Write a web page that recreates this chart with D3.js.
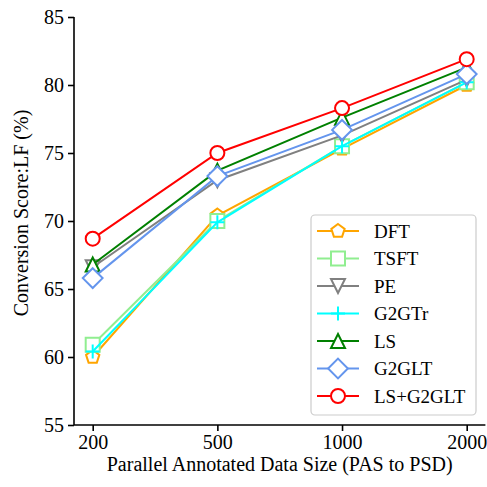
<!DOCTYPE html>
<html><head><meta charset="utf-8">
<script src="https://cdn.jsdelivr.net/npm/d3@7"></script>
<style>body{margin:0;background:#fff}svg{display:block}text{font-family:"Liberation Serif","Times New Roman",serif}</style>
</head><body>
<script>
const categories = ["200","500","1000","2000"];
const yTicks = [55,60,65,70,75,80,85];
const seriesNames = ["DFT","TSFT","PE","G2GTr","LS","G2GLT","LS+G2GLT"];
const DFT = [60.0,70.4,75.3,80.0];
const TSFT = [60.9,70.0,75.5,80.2];
const PE = [66.6,73.0,76.3,80.4];
const G2GTr = [60.4,69.9,75.5,80.2];
const LS = [66.8,73.7,77.6,81.3];
const G2GLT = [65.8,73.3,76.7,80.8];
const LSG2GLT = [68.7,75.0,78.3,81.9];
const seriesValues = [DFT,TSFT,PE,G2GTr,LS,G2GLT,LSG2GLT];
const colors = ["#FFA500","#90EE90","#808080","#00FFFF","#008000","#6495ED","#FF0000"];
const markers = ["pentagon","square","tridown","plus","triup","diamond","circle"];

const W=487,H=487,FS=20;
const svg=d3.select("body").append("svg").attr("width",W).attr("height",H);
const x=d3.scalePoint().domain(categories).range([74,485.4]).padding(0.15);
const y=d3.scaleLinear().domain([55,85]).range([425,17]);

const S=14;
function markerPath(type){
  const r=S/2;
  const p=d3.path();
  if(type==="circle"){p.arc(0,0,r,0,2*Math.PI);}
  else if(type==="square"){p.rect(-r,-r,S,S);}
  else if(type==="diamond"){const d=r*Math.SQRT2;p.moveTo(0,-d);p.lineTo(d,0);p.lineTo(0,d);p.lineTo(-d,0);p.closePath();}
  else if(type==="triup"){p.moveTo(0,-r);p.lineTo(r,r);p.lineTo(-r,r);p.closePath();}
  else if(type==="tridown"){p.moveTo(0,r);p.lineTo(r,-r);p.lineTo(-r,-r);p.closePath();}
  else if(type==="pentagon"){for(let i=0;i<5;i++){const a=-Math.PI/2+i*2*Math.PI/5;const px=r*Math.cos(a),py=r*Math.sin(a);if(i===0)p.moveTo(px,py);else p.lineTo(px,py);}p.closePath();}
  else if(type==="plus"){p.moveTo(-r,0);p.lineTo(r,0);p.moveTo(0,-r);p.lineTo(0,r);}
  return p.toString();
}

// axes
const xAxis=svg.append("g").attr("transform","translate(0,425)")
  .call(d3.axisBottom(x).tickSizeOuter(0).tickSize(6).tickPadding(4));
const yAxis=svg.append("g").attr("transform","translate(74,0)")
  .call(d3.axisLeft(y).tickValues(yTicks).tickSizeOuter(0).tickSize(6).tickPadding(4));
[xAxis,yAxis].forEach(g=>{
  g.attr("font-family",null);
  g.selectAll("path.domain").attr("stroke","#000").attr("stroke-width",1.6);
  g.selectAll(".tick line").attr("stroke","#000").attr("stroke-width",1.6);
  g.selectAll(".tick text").attr("font-size",FS).attr("fill","#000");
});
xAxis.select("path.domain").attr("d","M74,0H485.4");
yAxis.select("path.domain").attr("d","M0,425V17");

svg.append("text").attr("x",279.7).attr("y",471).attr("text-anchor","middle")
  .attr("font-size",FS).text("Parallel Annotated Data Size (PAS to PSD)");
svg.append("text").attr("transform","translate(21,213) rotate(-90)").attr("text-anchor","middle")
  .attr("dominant-baseline","central").attr("font-size",FS).text("Conversion Score:LF (%)");

// series
const line=d3.line().x((d,i)=>x(categories[i])).y(d=>y(d));
seriesValues.forEach((vals,k)=>{
  const g=svg.append("g");
  g.append("path").attr("d",line(vals)).attr("fill","none").attr("stroke",colors[k]).attr("stroke-width",2);
  g.selectAll("path.m").data(vals).enter().append("path").attr("class","m")
    .attr("transform",(d,i)=>`translate(${x(categories[i])},${y(d)})`)
    .attr("d",markerPath(markers[k]))
    .attr("fill",markers[k]==="plus"?"none":"#fff").attr("stroke",colors[k]).attr("stroke-width",2);
});

// legend
const lg=svg.append("g");
lg.append("rect").attr("x",311).attr("y",215).attr("width",165).attr("height",200).attr("rx",4)
  .attr("fill","#fff").attr("fill-opacity",0.8).attr("stroke","#cccccc").attr("stroke-width",1.2);
seriesNames.forEach((n,k)=>{
  const yy=231+k*27.5;
  lg.append("line").attr("x1",317).attr("x2",359).attr("y1",yy).attr("y2",yy).attr("stroke",colors[k]).attr("stroke-width",2);
  lg.append("path").attr("transform",`translate(338,${yy})`).attr("d",markerPath(markers[k]))
    .attr("fill",markers[k]==="plus"?"none":"#fff").attr("stroke",colors[k]).attr("stroke-width",2);
  lg.append("text").attr("x",374).attr("y",yy).attr("dominant-baseline","central").attr("font-size",FS-1).text(n);
});
</script>
</body></html>
